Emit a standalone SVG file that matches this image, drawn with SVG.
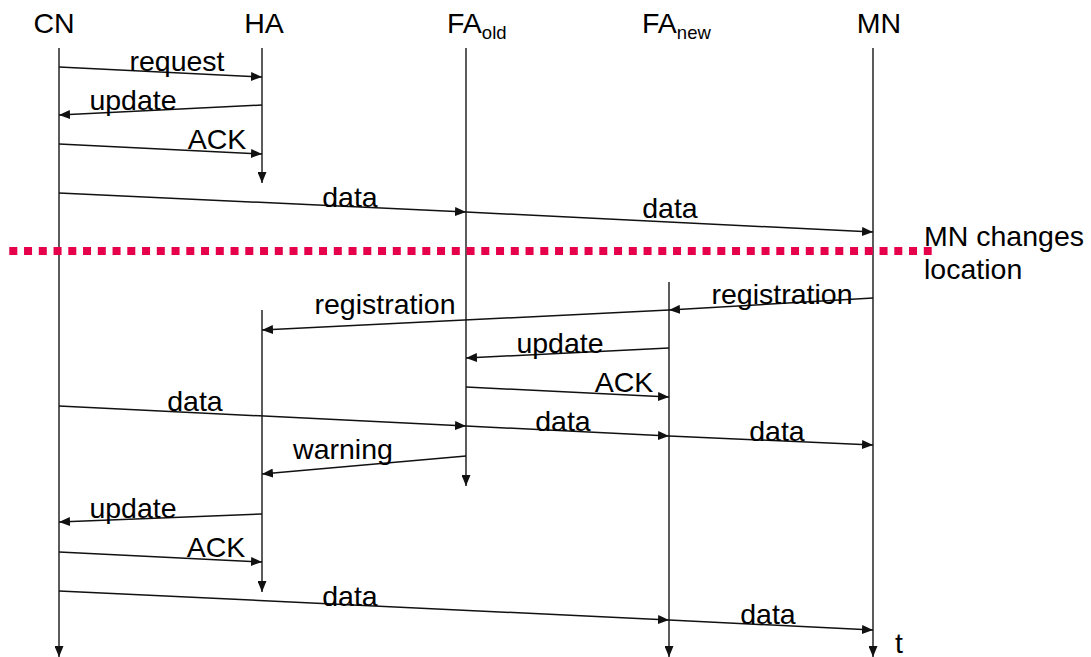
<svg xmlns="http://www.w3.org/2000/svg" width="1091" height="657" viewBox="0 0 1091 657">
  <style>
    text { font-family: "Liberation Sans", Arial, sans-serif; fill: #000; }
    .hdr { font-size: 28.5px; text-anchor: middle; }
    .sub { font-size: 18.5px; }
    .lbl { font-size: 28.5px; text-anchor: middle; }
    .life { stroke: #333; stroke-width: 1.6; fill: none; }
    .msg { stroke: #111; stroke-width: 1.5; fill: none; marker-end: url(#ah); }
    .lifearr { marker-end: url(#ah); }
  </style>
  <defs>
    <marker id="ah" markerUnits="userSpaceOnUse" markerWidth="11" markerHeight="9" refX="11" refY="4.5" orient="auto">
      <path d="M0,0 L11,4.5 L0,9 z" fill="#111"/>
    </marker>
  </defs>
  <rect width="1091" height="657" fill="#fff"/>

  <g id="CN">
    <text class="hdr" x="54" y="33">CN</text>
    <line class="life lifearr" x1="59" y1="48" x2="59" y2="657"/>
  </g>
  <g id="HA">
    <text class="hdr" x="264" y="33">HA</text>
    <line class="life lifearr" x1="262" y1="48" x2="262" y2="183"/>
    <line class="life lifearr" x1="262" y1="310" x2="262" y2="592"/>
  </g>
  <g id="FA_old">
    <text x="447" y="33" style="font-size:28.5px">FA<tspan class="sub" dy="6">old</tspan></text>
    <line class="life lifearr" x1="466" y1="48" x2="466" y2="486"/>
  </g>
  <g id="FA_new">
    <text x="642" y="33" style="font-size:28.5px">FA<tspan class="sub" dy="6">new</tspan></text>
    <line class="life lifearr" x1="669" y1="282" x2="669" y2="657"/>
  </g>
  <g id="MN">
    <text class="hdr" x="879" y="33">MN</text>
    <line class="life lifearr" x1="873" y1="48" x2="873" y2="657"/>
    <text x="895" y="653" style="font-size:28.5px">t</text>
  </g>

  <g id="location-change">
    <line x1="9.3" y1="251" x2="931.7" y2="251" stroke="#E6004C" stroke-width="8" stroke-dasharray="8 6.75"/>
    <text x="924" y="246" style="font-size:28.5px">MN changes</text>
    <text x="924" y="279" style="font-size:28.5px">location</text>
  </g>

  <g id="connectors">
    <line class="msg" x1="59" y1="67" x2="262" y2="77"/>
    <line class="msg" x1="262" y1="105" x2="59" y2="115"/>
    <line class="msg" x1="59" y1="144" x2="262" y2="154"/>
    <line class="msg" x1="59" y1="193" x2="466" y2="212"/>
    <line class="msg" x1="466" y1="212" x2="873" y2="232"/>
    <line class="msg" x1="873" y1="298" x2="669" y2="310"/>
    <line class="msg" x1="669" y1="310" x2="262" y2="330"/>
    <line class="msg" x1="669" y1="348" x2="466" y2="358"/>
    <line class="msg" x1="466" y1="387" x2="669" y2="397"/>
    <line class="msg" x1="59" y1="406" x2="466" y2="426"/>
    <line class="msg" x1="466" y1="426" x2="669" y2="436"/>
    <line class="msg" x1="669" y1="436" x2="873" y2="445"/>
    <line class="msg" x1="466" y1="456" x2="262" y2="474"/>
    <line class="msg" x1="262" y1="514" x2="59" y2="522"/>
    <line class="msg" x1="59" y1="552" x2="262" y2="562"/>
    <line class="msg" x1="59" y1="591" x2="669" y2="620"/>
    <line class="msg" x1="669" y1="620" x2="873" y2="630"/>

    <text class="lbl" x="177" y="71">request</text>
    <text class="lbl" x="133" y="110">update</text>
    <text class="lbl" x="217" y="149">ACK</text>
    <text class="lbl" x="350" y="207">data</text>
    <text class="lbl" x="670" y="218">data</text>
    <text class="lbl" x="782" y="304">registration</text>
    <text class="lbl" x="385" y="314">registration</text>
    <text class="lbl" x="560" y="353">update</text>
    <text class="lbl" x="624" y="392">ACK</text>
    <text class="lbl" x="195" y="411">data</text>
    <text class="lbl" x="563" y="431">data</text>
    <text class="lbl" x="777" y="441">data</text>
    <text class="lbl" x="343" y="459">warning</text>
    <text class="lbl" x="133" y="518">update</text>
    <text class="lbl" x="216" y="557">ACK</text>
    <text class="lbl" x="350" y="606">data</text>
    <text class="lbl" x="768" y="624">data</text>
  </g>
</svg>
